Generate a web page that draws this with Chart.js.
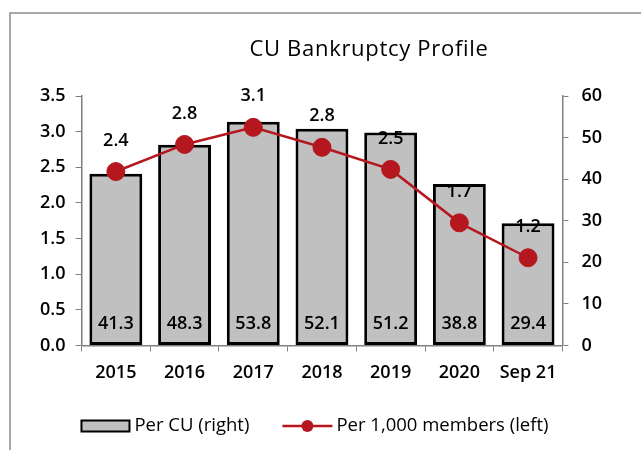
<!DOCTYPE html>
<html>
<head>
<meta charset="utf-8">
<script src="https://cdn.jsdelivr.net/npm/chart.js@4"></script>
<style>
  html, body { margin: 0; padding: 0; background: #fff; }
  #wrap { width: 641px; height: 450px; }
</style>
</head>
<body>
<div id="wrap"><canvas id="myChart" width="641" height="450"></canvas></div>
<script>
const categories = ["2015", "2016", "2017", "2018", "2019", "2020", "Sep 21"];
const perCU = [41.3, 48.3, 53.8, 52.1, 51.2, 38.8, 29.4];
const perMembers = [2.44, 2.82, 3.06, 2.78, 2.47, 1.72, 1.23];
const leftTicks = [0, 0.5, 1.0, 1.5, 2.0, 2.5, 3.0, 3.5];
const rightTicks = [0, 10, 20, 30, 40, 50, 60];
const seriesNames = ["Per CU (right)", "Per 1,000 members (left)"];

const numFont = "'Open Sans', sans-serif";
const red = "#b5171f";
const barGray = "#c0c0c0";
const axisGray = "#808080";

const framePlugin = {
  id: "frame",
  beforeDraw(chart) {
    const ctx = chart.ctx;
    ctx.save();
    ctx.fillStyle = "#fff";
    ctx.fillRect(0, 0, chart.width, chart.height);
    ctx.strokeStyle = "#8c8c8c";
    ctx.lineWidth = 1.5;
    ctx.strokeRect(10, 13, chart.width + 20, chart.height + 20);
    ctx.restore();
  },
  afterDraw(chart) {
    const ctx = chart.ctx;
    ctx.save();
    ctx.fillStyle = "#000";
    ctx.font = "500 22px " + numFont;
    ctx.letterSpacing = "0.7px";
    ctx.textAlign = "center";
    ctx.textBaseline = "middle";
    ctx.fillText("CU Bankruptcy Profile", 369, 50);
    ctx.restore();

    // legend, drawn by hand so the spacing follows the original
    ctx.save();
    ctx.font = "18.5px " + numFont;
    ctx.textBaseline = "middle";
    ctx.fillStyle = "#000";
    const y = 426;
    const w1 = ctx.measureText(seriesNames[0]).width;
    const w2 = ctx.measureText(seriesNames[1]).width;
    const total = 48 + 5 + w1 + 33 + 50 + 4 + w2;
    let x = 315 - total / 2;
    ctx.fillStyle = barGray;
    ctx.fillRect(x, y - 5.5, 48, 11);
    ctx.strokeStyle = "#000";
    ctx.lineWidth = 2;
    ctx.strokeRect(x, y - 5.5, 48, 11);
    x += 53;
    ctx.fillStyle = "#000";
    ctx.fillText(seriesNames[0], x, y);
    x += w1 + 33;
    ctx.strokeStyle = red;
    ctx.lineWidth = 2.5;
    ctx.beginPath();
    ctx.moveTo(x, y);
    ctx.lineTo(x + 50, y);
    ctx.stroke();
    ctx.fillStyle = red;
    ctx.beginPath();
    ctx.arc(x + 25, y, 6, 0, Math.PI * 2);
    ctx.fill();
    x += 54;
    ctx.fillStyle = "#000";
    ctx.fillText(seriesNames[1], x, y);
    ctx.restore();
  }
};

const labelPlugin = {
  id: "valueLabels",
  afterDatasetsDraw(chart) {
    const ctx = chart.ctx;
    const area = chart.chartArea;
    ctx.save();
    ctx.fillStyle = "#000";
    ctx.font = "600 18px " + numFont;
    ctx.textAlign = "center";
    ctx.textBaseline = "middle";
    chart.getDatasetMeta(0).data.forEach((el, i) => {
      ctx.fillText(perCU[i].toFixed(1), el.x, area.bottom - 22);
    });
    chart.getDatasetMeta(1).data.forEach((el, i) => {
      ctx.fillText(perMembers[i].toFixed(1), el.x, el.y - 31);
    });
    ctx.restore();
  }
};

new Chart(document.getElementById("myChart"), {
  type: "bar",
  data: {
    labels: categories,
    datasets: [
      {
        type: "bar",
        label: seriesNames[0],
        data: perCU,
        yAxisID: "yRight",
        backgroundColor: barGray,
        borderColor: "#000",
        borderWidth: 3,
        borderSkipped: false,
        categoryPercentage: 1,
        barPercentage: 0.77,
        order: 1
      },
      {
        type: "line",
        label: seriesNames[1],
        data: perMembers,
        yAxisID: "yLeft",
        borderColor: red,
        backgroundColor: red,
        borderWidth: 2.5,
        pointRadius: 9,
        pointBorderWidth: 1,
        pointBackgroundColor: red,
        pointBorderColor: red,
        tension: 0,
        order: 0
      }
    ]
  },
  options: {
    responsive: false,
    animation: false,
    layout: { padding: { left: 30, right: 26, top: 96, bottom: 55 } },
    plugins: {
      title: { display: false },
      tooltip: { enabled: false },
      legend: { display: false }
    },
    scales: {
      x: {
        offset: true,
        grid: { display: true, drawOnChartArea: false, offset: true, tickLength: 6, color: axisGray },
        border: { display: true, color: axisGray, width: 1.5 },
        ticks: { color: "#000", padding: 11, font: { family: numFont, size: 18, weight: "600" } }
      },
      yLeft: {
        position: "left",
        min: 0,
        max: 3.5,
        afterBuildTicks: (s) => { s.ticks = leftTicks.map((v) => ({ value: v })); },
        grid: { display: true, drawOnChartArea: false, tickLength: 6, color: axisGray },
        border: { display: true, color: axisGray, width: 1.5 },
        ticks: {
          color: "#000",
          padding: 10,
          font: { family: numFont, size: 18, weight: "600" },
          callback: (v) => Number(v).toFixed(1)
        }
      },
      yRight: {
        position: "right",
        min: 0,
        max: 60,
        afterBuildTicks: (s) => { s.ticks = rightTicks.map((v) => ({ value: v })); },
        grid: { display: true, drawOnChartArea: false, tickLength: 6, color: axisGray },
        border: { display: true, color: axisGray, width: 1.5 },
        ticks: {
          color: "#000",
          padding: 13,
          font: { family: numFont, size: 18, weight: "600" }
        }
      }
    }
  },
  plugins: [framePlugin, labelPlugin]
});
</script>
</body>
</html>
